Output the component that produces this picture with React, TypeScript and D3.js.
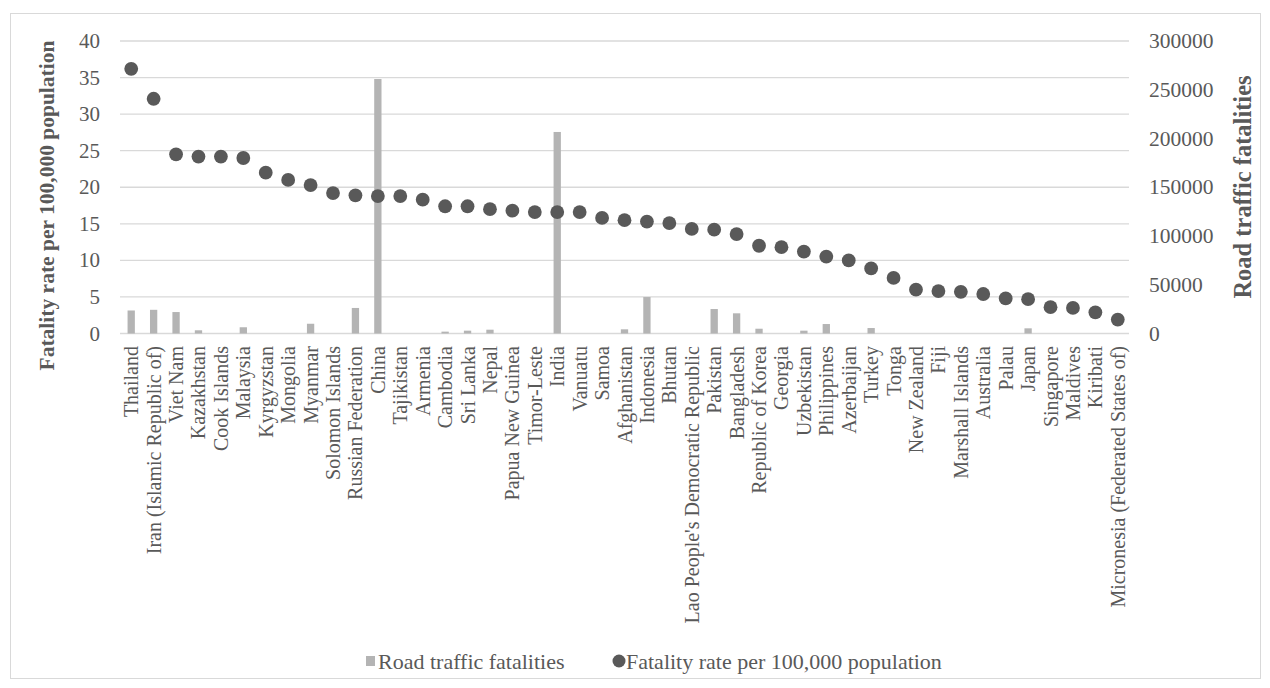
import React from "react";
import * as d3 from "d3";

const countries = [
  "Thailand", "Iran (Islamic Republic of)", "Viet Nam", "Kazakhstan", "Cook Islands",
  "Malaysia", "Kyrgyzstan", "Mongolia", "Myanmar", "Solomon Islands",
  "Russian Federation", "China", "Tajikistan", "Armenia", "Cambodia",
  "Sri Lanka", "Nepal", "Papua New Guinea", "Timor-Leste", "India",
  "Vanuatu", "Samoa", "Afghanistan", "Indonesia", "Bhutan",
  "Lao People's Democratic Republic", "Pakistan", "Bangladesh", "Republic of Korea", "Georgia",
  "Uzbekistan", "Philippines", "Azerbaijan", "Turkey", "Tonga",
  "New Zealand", "Fiji", "Marshall Islands", "Australia", "Palau",
  "Japan", "Singapore", "Maldives", "Kiribati", "Micronesia (Federated States of)",
];

// Road traffic fatalities (right axis)
const fatalities = [
  23600, 24300, 22000, 3300, 0,
  6400, 0, 0, 10000, 0,
  26200, 261000, 0, 0, 1900,
  2900, 3900, 0, 0, 206700,
  0, 0, 4300, 37400, 0,
  0, 25100, 20700, 4900, 0,
  2900, 9700, 0, 5600, 0,
  0, 0, 0, 0, 0,
  5300, 0, 0, 0, 0,
];

// Fatality rate per 100,000 population (left axis)
const rates = [
  36.2, 32.1, 24.5, 24.2, 24.2,
  24.0, 22.0, 21.0, 20.3, 19.2,
  18.9, 18.8, 18.8, 18.3, 17.4,
  17.4, 17.0, 16.8, 16.6, 16.6,
  16.6, 15.8, 15.5, 15.3, 15.1,
  14.3, 14.2, 13.6, 12.0, 11.8,
  11.2, 10.5, 10.0, 8.9, 7.6,
  6.0, 5.8, 5.7, 5.4, 4.8,
  4.7, 3.6, 3.5, 2.9, 1.9,
];

const leftTicks = [0, 5, 10, 15, 20, 25, 30, 35, 40];
const rightTicks = [0, 50000, 100000, 150000, 200000, 250000, 300000];

const W = 1270;
const H = 688;
const plot = { left: 120, right: 1129, top: 41, bottom: 333.5 };

const textColor = "#595959";
const gridColor = "#d9d9d9";
const barColor = "#b4b4b4";
const dotColor = "#595959";
const font = "'Liberation Serif', 'Times New Roman', serif";

export default function App() {
  const x = d3.scaleBand<string>().domain(countries).range([plot.left, plot.right]).padding(0);
  const yL = d3.scaleLinear().domain([0, 40]).range([plot.bottom, plot.top]);
  const yR = d3.scaleLinear().domain([0, 300000]).range([plot.bottom, plot.top]);
  const barW = 7.3;
  const cx = (c: string) => (x(c) ?? 0) + x.bandwidth() / 2;

  return (
    <svg
      width={W}
      height={H}
      style={{ position: "absolute", left: 0, top: 0, background: "#fff" }}
      fontFamily={font}
    >
      <rect x={10.5} y={13.5} width={1250} height={665} fill="#fff" stroke={gridColor} strokeWidth={1} />

      {/* gridlines */}
      {leftTicks.map((t) => (
        <line
          key={"g" + t}
          x1={plot.left}
          x2={plot.right}
          y1={yL(t)}
          y2={yL(t)}
          stroke={gridColor}
          strokeWidth={1.3}
        />
      ))}

      {/* left tick labels */}
      {leftTicks.map((t) => (
        <text
          key={"l" + t}
          x={100}
          y={yL(t)}
          textAnchor="end"
          dominantBaseline="central"
          fontSize={21}
          fill={textColor}
        >
          {t}
        </text>
      ))}

      {/* right tick labels */}
      {rightTicks.map((t) => (
        <text
          key={"r" + t}
          x={1149}
          y={yR(t)}
          textAnchor="start"
          dominantBaseline="central"
          fontSize={21.5}
          fill={textColor}
        >
          {t}
        </text>
      ))}

      {/* bars */}
      {countries.map((c, i) =>
        fatalities[i] > 0 ? (
          <rect
            key={"b" + c}
            x={cx(c) - barW / 2}
            y={yR(fatalities[i])}
            width={barW}
            height={yR(0) - yR(fatalities[i])}
            fill={barColor}
          />
        ) : null
      )}

      {/* dots */}
      {countries.map((c, i) => (
        <circle key={"d" + c} cx={cx(c)} cy={yL(rates[i])} r={6.9} fill={dotColor} />
      ))}

      {/* category labels */}
      {countries.map((c) => (
        <text
          key={"x" + c}
          transform={`translate(${cx(c)},346) rotate(-90)`}
          textAnchor="end"
          dominantBaseline="central"
          fontSize={20}
          fill={textColor}
        >
          {c}
        </text>
      ))}

      {/* axis titles */}
      <text
        transform={`translate(47,${(plot.top + 370) / 2}) rotate(-90)`}
        textAnchor="middle"
        dominantBaseline="central"
        fontSize={21.5}
        fontWeight="bold"
        fill={textColor}
      >
        Fatality rate per 100,000 population
      </text>
      <text
        transform={`translate(1242,187) rotate(-90)`}
        textAnchor="middle"
        dominantBaseline="central"
        fontSize={24.5}
        fontWeight="bold"
        fill={textColor}
      >
        Road traffic fatalities
      </text>

      {/* legend */}
      <rect x={366} y={656} width={9} height={10} fill={barColor} />
      <text x={378} y={661} dominantBaseline="central" fontSize={22} fill={textColor}>
        Road traffic fatalities
      </text>
      <circle cx={619} cy={661} r={6.5} fill={dotColor} />
      <text x={626} y={661} dominantBaseline="central" fontSize={22} fill={textColor}>
        Fatality rate per 100,000 population
      </text>
    </svg>
  );
}
